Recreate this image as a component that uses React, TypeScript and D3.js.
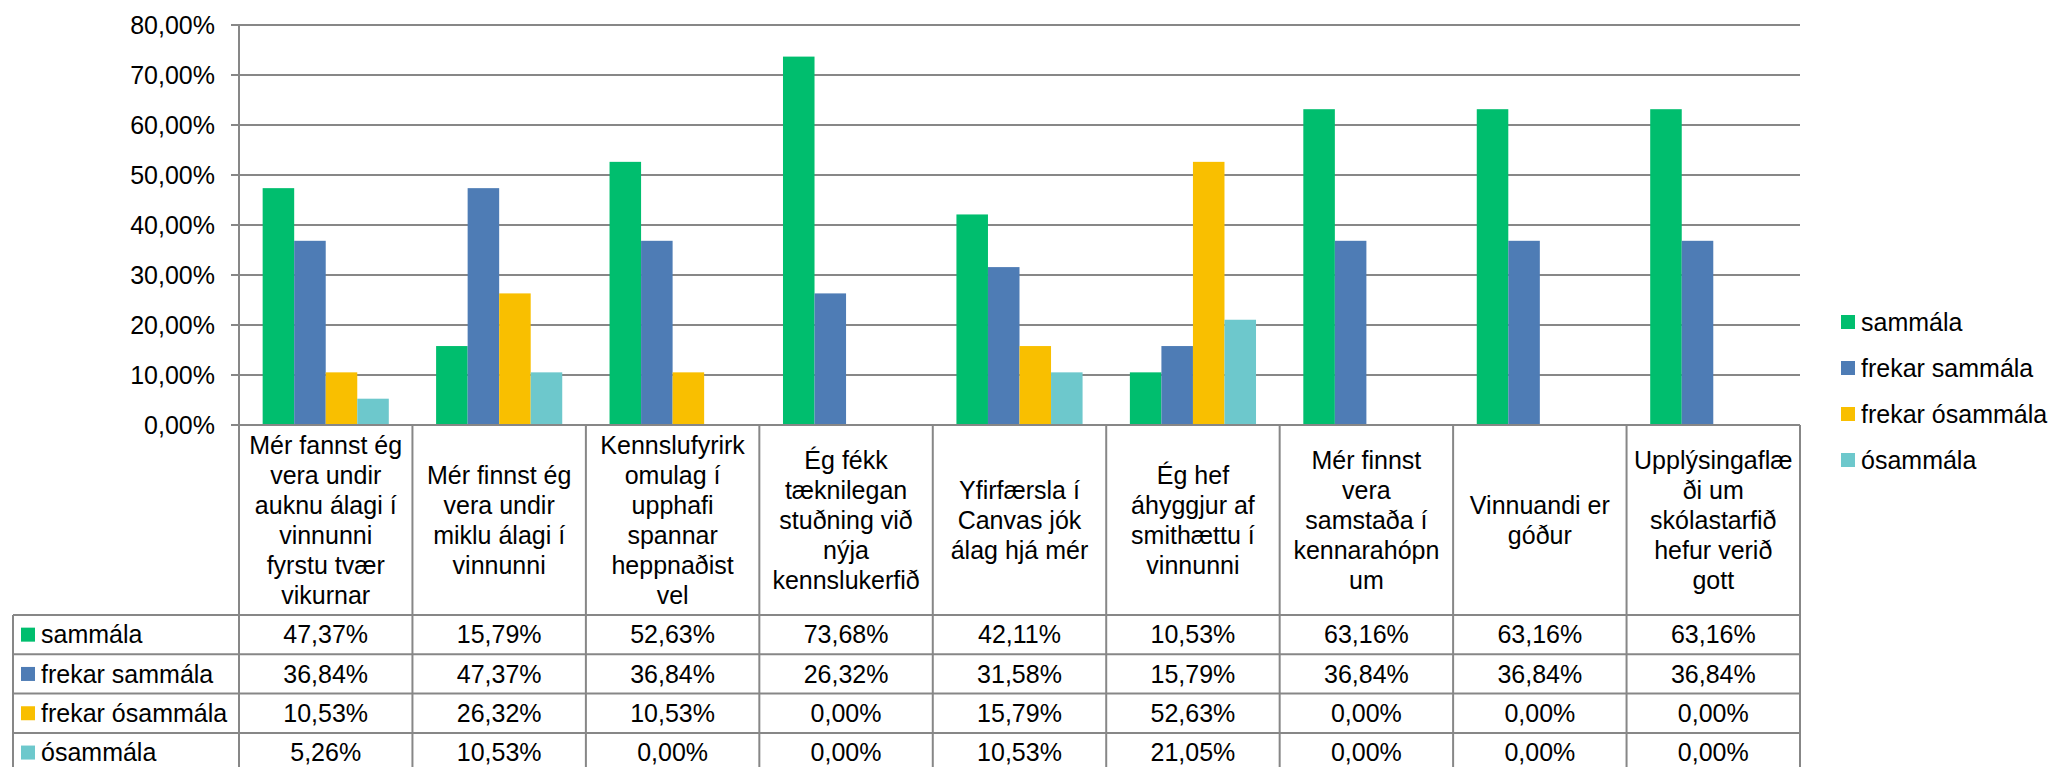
import React from "react";
import * as d3 from "d3";

// category labels, wrapped the same way as the original chart
const categories = [
  ["Mér fannst ég", "vera undir", "auknu álagi í", "vinnunni", "fyrstu tvær", "vikurnar"],
  ["Mér finnst ég", "vera undir", "miklu álagi í", "vinnunni"],
  ["Kennslufyrirk", "omulag í", "upphafi", "spannar", "heppnaðist", "vel"],
  ["Ég fékk", "tæknilegan", "stuðning við", "nýja", "kennslukerfið"],
  ["Yfirfærsla í", "Canvas jók", "álag hjá mér"],
  ["Ég hef", "áhyggjur af", "smithættu í", "vinnunni"],
  ["Mér finnst", "vera", "samstaða í", "kennarahópn", "um"],
  ["Vinnuandi er", "góður"],
  ["Upplýsingaflæ", "ði um", "skólastarfið", "hefur verið", "gott"],
];

const seriesNames = ["sammála", "frekar sammála", "frekar ósammála", "ósammála"];
const seriesColors = ["#00BE6E", "#4E7CB5", "#F9BF00", "#6DC8CC"];

const sammala = [47.37, 15.79, 52.63, 73.68, 42.11, 10.53, 63.16, 63.16, 63.16];
const frekarSammala = [36.84, 47.37, 36.84, 26.32, 31.58, 15.79, 36.84, 36.84, 36.84];
const frekarOsammala = [10.53, 26.32, 10.53, 0, 15.79, 52.63, 0, 0, 0];
const osammala = [5.26, 10.53, 0, 0, 10.53, 21.05, 0, 0, 0];

const yTicks = [0, 10, 20, 30, 40, 50, 60, 70, 80];

const series = [sammala, frekarSammala, frekarOsammala, osammala];

const W = 2056;
const H = 767;
const FONT = "'Liberation Sans', Arial, sans-serif";
const GRID = "#878787";

const fmt = (v: number) => v.toFixed(2).replace(".", ",") + "%";

export default function App() {
  const left = 239;
  const right = 1800;
  const top = 25;
  const base = 425;
  const tableLeft = 13;
  const headerBottom = 615;
  const rowH = 39.3;

  const y = d3.scaleLinear().domain([0, 80]).range([base, top]);
  const x = d3
    .scaleBand<number>()
    .domain(d3.range(categories.length))
    .range([left, right]);
  const band = x.bandwidth();
  const barW = band / 5.5;
  const inner = d3
    .scaleBand<number>()
    .domain(d3.range(series.length))
    .range([0.75 * barW, 0.75 * barW + 4 * barW]);

  const lineH = 30;
  const headerMid = (base + headerBottom) / 2;

  return (
    <svg
      width={W}
      height={H}
      style={{ position: "absolute", left: 0, top: 0, background: "#fff" }}
      fontFamily={FONT}
    >
      {/* gridlines and y ticks */}
      {yTicks.map((t) => (
        <g key={t}>
          {t > 0 && (
            <line x1={left} x2={right} y1={y(t)} y2={y(t)} stroke={GRID} strokeWidth={2} />
          )}
          <line x1={left - 8} x2={left} y1={y(t)} y2={y(t)} stroke={GRID} strokeWidth={2} />
          <text
            x={215}
            y={y(t)}
            dy="0.35em"
            textAnchor="end"
            fontSize={25}
            fill="#000"
          >
            {fmt(t)}
          </text>
        </g>
      ))}

      {/* bars */}
      {series.map((vals, si) =>
        vals.map((v, ci) =>
          v > 0 ? (
            <rect
              key={si + "-" + ci}
              x={(x(ci) as number) + (inner(si) as number)}
              y={y(v)}
              width={inner.bandwidth()}
              height={base - y(v)}
              fill={seriesColors[si]}
            />
          ) : null
        )
      )}

      {/* y axis */}
      <line x1={left} x2={left} y1={top} y2={base} stroke={GRID} strokeWidth={2} />

      {/* data table */}
      <g stroke={GRID} strokeWidth={2}>
        <line x1={left - 8} x2={right} y1={base} y2={base} />
        {d3.range(categories.length + 1).map((i) => {
          const xx = i < categories.length ? (x(i) as number) : right;
          return <line key={i} x1={xx} x2={xx} y1={base} y2={H + 10} />;
        })}
        <line x1={tableLeft} x2={tableLeft} y1={headerBottom} y2={H + 10} />
        {d3.range(series.length + 1).map((r) => (
          <line
            key={r}
            x1={tableLeft}
            x2={right}
            y1={headerBottom + r * rowH}
            y2={headerBottom + r * rowH}
          />
        ))}
      </g>

      {/* category headers */}
      {categories.map((lines, ci) => {
        const cx = (x(ci) as number) + band / 2;
        const first = headerMid - ((lines.length - 1) * lineH) / 2;
        return (
          <text key={ci} textAnchor="middle" fontSize={25} fill="#000">
            {lines.map((l, li) => (
              <tspan key={li} x={cx} y={first + li * lineH} dy="0.35em">
                {l}
              </tspan>
            ))}
          </text>
        );
      })}

      {/* table rows */}
      {series.map((vals, si) => {
        const cy = headerBottom + si * rowH + rowH / 2;
        return (
          <g key={si}>
            <rect x={21} y={cy - 7} width={14} height={14} fill={seriesColors[si]} />
            <text x={41} y={cy} dy="0.35em" fontSize={25} fill="#000">
              {seriesNames[si]}
            </text>
            {vals.map((v, ci) => (
              <text
                key={ci}
                x={(x(ci) as number) + band / 2}
                y={cy}
                dy="0.35em"
                textAnchor="middle"
                fontSize={25}
                fill="#000"
              >
                {fmt(v)}
              </text>
            ))}
          </g>
        );
      })}

      {/* legend */}
      {seriesNames.map((n, si) => {
        const cy = 322 + si * 46;
        return (
          <g key={n}>
            <rect x={1841} y={cy - 7} width={14} height={14} fill={seriesColors[si]} />
            <text x={1861} y={cy} dy="0.35em" fontSize={25} fill="#000">
              {n}
            </text>
          </g>
        );
      })}
    </svg>
  );
}
